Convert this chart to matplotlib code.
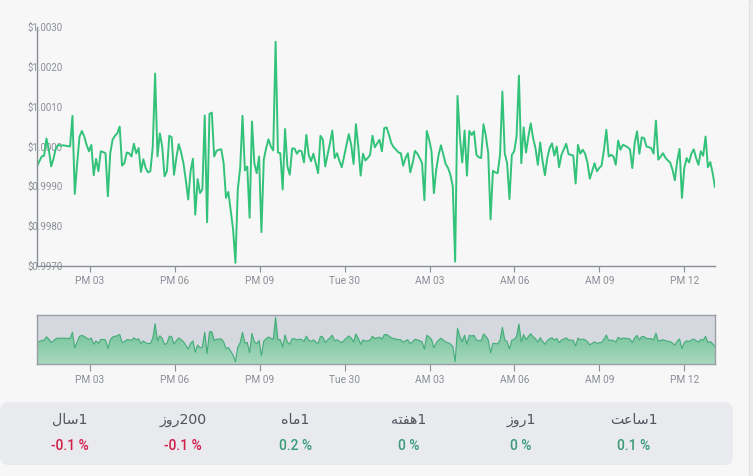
import matplotlib
matplotlib.use('Agg')
import matplotlib.pyplot as plt
import matplotlib.dates as mdates
from matplotlib.patches import FancyBboxPatch, Rectangle
import numpy as np
import pandas as pd

plt.rcParams['font.family'] = ['Roboto', 'DejaVu Sans']

# price readings (5 min steps)
prices = [
    0.9995, 0.99963, 0.99975, 0.99977, 1.0002, 0.99992, 0.9995, 0.9997, 0.99996, 1.00004,
    1.00002, 1.00003, 1.00002, 1.00001, 1.0, 1.00077, 0.99881, 0.99958, 1.00025, 1.00039,
    1.00025, 1.00004, 0.99988, 1.00004, 0.99928, 0.99969, 0.99938, 0.99988, 0.99986, 0.99983,
    0.99875, 0.99983, 1.00017, 1.00027, 1.00033, 1.0005, 0.99952, 0.99958, 0.99985, 0.99983,
    0.99975, 1.00007, 0.99983, 0.99996, 0.99936, 0.99968, 0.99946, 0.99935, 0.99938, 1.0,
    1.00183, 0.99975, 1.00033, 1.0, 0.99925, 0.99938, 1.00027, 1.00023, 0.99929, 0.99972,
    1.00006, 0.99985, 0.99958, 0.99915, 0.99867, 0.99938, 0.99969, 0.99829, 0.99918, 0.99883,
    0.99892, 1.00078, 0.9981, 1.00082, 1.00085, 0.99975, 0.99989, 0.99992, 0.99993, 0.99958,
    0.99871, 0.99886, 0.99838, 0.99792, 0.99708, 0.99892, 0.99946, 1.00077, 0.9994, 0.9995,
    0.99821, 1.00063, 0.99958, 0.99933, 0.99975, 0.99785, 0.99967,
    0.99996, 1.00018, 1.0, 0.9999, 1.00263, 0.99985, 0.99983, 0.99892, 1.00044, 0.9995,
    0.99929, 0.99995, 0.99995, 0.99982, 0.9999, 0.99988, 0.9996, 1.00029, 0.99979, 0.99963,
    0.99982, 0.99958, 0.99933, 1.00027, 1.00017, 0.9995, 0.99979, 1.00008, 1.0004, 0.99971,
    0.99983, 0.99964, 0.99948, 0.99975, 1.00004, 1.00031, 1.00004, 0.99956, 1.00056, 1.0,
    0.99927, 0.99982, 0.99965, 0.99971, 0.99979, 1.00027, 0.99998, 1.00008, 1.00017, 0.99988,
    1.00046, 1.00048, 1.00029, 1.00008, 0.99998, 0.99992, 0.99985, 0.99983, 0.99952, 0.99971,
    0.99983, 0.99935, 0.99958, 0.99989, 0.99982, 0.99971, 0.99958, 0.99865, 1.00039, 1.00017,
    0.99988, 0.99883, 0.99942, 0.99979, 1.00003, 0.99979, 0.99956, 0.99946, 0.99929, 0.999,
    0.99711, 1.00127, 1.00025, 0.9996, 1.0004, 0.99927, 1.00039, 1.00029, 1.00038, 0.99979,
    0.99973, 0.99971, 1.00056, 1.00027, 0.99983, 0.99817,
    0.99939, 0.99935, 0.99933, 0.99979, 1.00138, 0.99983, 0.99958, 0.99868, 0.99979, 0.99988,
    1.00025, 1.00178, 0.99958, 1.00048, 0.99985, 1.00025, 1.00058, 1.00021, 0.99996, 0.99954,
    1.0001, 0.99964, 0.99928, 0.99971, 0.99996, 1.00008, 0.99977, 1.0, 0.99948, 0.99979,
    0.99993, 1.00007, 0.99981, 0.99979, 0.99977, 0.99907, 1.00004, 0.99982, 0.99992, 0.99982,
    0.9996, 0.99919, 0.99938, 0.99958, 0.99938, 0.99946, 0.99952, 0.99992, 1.00042, 0.99975,
    0.99979, 0.99975, 0.99954, 1.00015, 0.99992, 1.00004, 1.00002, 0.99998, 0.99993, 0.99946,
    1.00008, 1.00038, 0.99982, 1.00023, 1.00021, 1.0, 0.99998, 0.99996, 0.99982, 1.00065,
    0.99967, 0.99975, 0.99983, 0.99972, 0.99965, 0.9996, 0.99942, 0.99915, 0.99964, 0.99994,
    0.99871, 0.99946, 0.99971, 0.9996, 0.99982, 0.99993, 0.99971, 0.99954, 0.99988, 0.99977,
    1.00025, 0.99948, 0.99961, 0.99933, 0.99898,
]
start_time = '2024-01-29 13:08'
end_time = '2024-01-30 13:05'

y_ticks = [0.9970, 0.9980, 0.9990, 1.0000, 1.0010, 1.0020, 1.0030]
y_labels = ['$0.9970', '$0.9980', '$0.9990', '$1.0000', '$1.0010', '$1.0020', '$1.0030']

tick_times = ['2024-01-29 15:00', '2024-01-29 18:00', '2024-01-29 21:00', '2024-01-30 00:00',
              '2024-01-30 03:00', '2024-01-30 06:00', '2024-01-30 09:00', '2024-01-30 12:00']
tick_labels = ['PM 03', 'PM 06', 'PM 09', 'Tue 30', 'AM 03', 'AM 06', 'AM 09', 'PM 12']

# Persian period labels (presentation forms in visual order) and changes
periods = ['\uFEDD\uFE8E\uFEB31', '\uFEAF\uFEED\uFEAD200', '\uFEE9\uFE8E\uFEE31',
           '\uFEEA\uFE98\uFED4\uFEEB1', '\uFEAF\uFEED\uFEAD1', '\uFE96\uFECB\uFE8E\uFEB31']
changes = ['-0.1 %', '-0.1 %', '0.2 %', '0 %', '0 %', '0.1 %']
change_up = [False, False, True, True, True, True]

times = pd.date_range(start_time, end_time, periods=len(prices))
x = mdates.date2num(times)
tx = mdates.date2num(pd.to_datetime(tick_times))

bg = '#f7f7f7'
axis_c = '#8a8e98'
text_c = '#8a8e98'
line_c = '#33c27a'

fig = plt.figure(figsize=(7.53, 4.76), dpi=100, facecolor=bg)
W, H = 753, 476

# page layer in pixel coords
page = fig.add_axes([0, 0, 1, 1], zorder=-5)
page.set_xlim(0, W)
page.set_ylim(H, 0)
page.axis('off')
page.add_patch(FancyBboxPatch((0, 402), 733, 63, boxstyle='round,pad=0,rounding_size=9',
                              fc='#e8eaee', ec='none'))
page.add_patch(Rectangle((749, 0), 4, H, fc='#ececec', ec='#e0e0e0', lw=0.8))
for i, (p, c, up) in enumerate(zip(periods, changes, change_up)):
    cx = 70 + 112.8 * i
    page.text(cx, 420, p, ha='center', va='center', fontsize=10.2, color='#50555e',
              family=['DejaVu Sans'])
    page.text(cx, 446, c, ha='center', va='center', fontsize=10, fontweight='medium',
              color='#3a9b78' if up else '#d21f4a')

# main chart
ax = fig.add_axes([37 / W, 1 - 266 / H, 678 / W, 239 / H])
ax.set_facecolor('none')
ax.plot(x, prices, color=line_c, lw=1.4)
ax.set_xlim(x[0], x[-1])
ax.set_ylim(0.9970, 1.0030)
for s in ['top', 'right']:
    ax.spines[s].set_visible(False)
for s in ['left', 'bottom']:
    ax.spines[s].set_color(axis_c)
    ax.spines[s].set_linewidth(1.0)
ax.set_yticks(y_ticks)
ax.set_yticklabels(y_labels)
ax.tick_params(axis='y', length=0, pad=7.2, labelsize=7, labelcolor=text_c)
for lab in ax.get_yticklabels():
    lab.set_horizontalalignment('left')
ax.set_xticks(tx)
ax.set_xticklabels(tick_labels)
ax.tick_params(axis='x', length=4, color=axis_c, labelsize=7.3, labelcolor=text_c, pad=3)

# navigator
nav = fig.add_axes([37 / W, 1 - 364 / H, 678 / W, 49 / H])
nav.set_facecolor('#d6d8df')
nav_lo, nav_hi = 0.99681, 1.00292
poly = nav.fill_between(x, prices, nav_lo, color='none', lw=0)
grad = np.linspace(0, 1, 100).reshape(-1, 1)
img = nav.imshow(grad, extent=[x[0], x[-1], nav_lo, 1.0027], origin='upper', aspect='auto',
                 cmap=matplotlib.colors.LinearSegmentedColormap.from_list('g', ['#5cba8a', '#a9d8bf']),
                 zorder=1)
img.set_clip_path(poly.get_paths()[0], transform=nav.transData)
nav.plot(x, prices, color='#43ad79', lw=0.8, zorder=2)
nav.set_xlim(x[0], x[-1])
nav.set_ylim(nav_lo, nav_hi)
nav.set_yticks([])
for s in nav.spines.values():
    s.set_color('#9a9da6')
    s.set_linewidth(1.0)
nav.set_xticks(tx)
nav.set_xticklabels(tick_labels)
nav.tick_params(axis='x', length=5, color=axis_c, labelsize=7.3, labelcolor=text_c, pad=3)

fig.savefig('out.png', dpi=100, facecolor=bg)
